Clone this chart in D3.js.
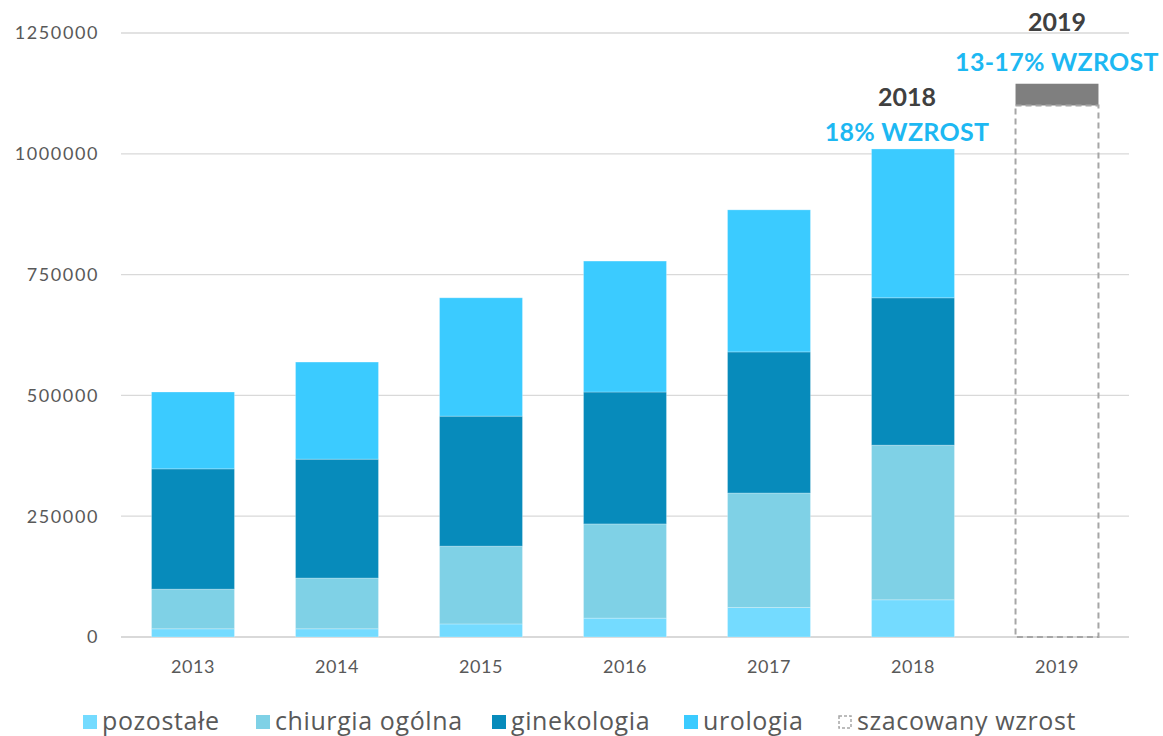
<!DOCTYPE html>
<html><head><meta charset="utf-8">
<script src="https://cdn.jsdelivr.net/npm/d3@7"></script>
<style>body{margin:0;background:#fff}svg{display:block}</style>
</head><body>
<svg id="c" width="1163" height="736"></svg>
<script>
const years = ["2013","2014","2015","2016","2017","2018","2019"];
const seriesNames = ["pozostałe","chiurgia ogólna","ginekologia","urologia"];
const pozostale = [17000, 17000, 27000, 39000, 61000, 77000, 0];
const chirurgia = [82000, 105000, 161000, 195000, 237000, 320000, 0];
const ginekologia = [249000, 246000, 269000, 273000, 292000, 305000, 0];
const urologia = [159000, 201000, 245000, 271000, 294000, 308000, 0];
const estimateBase = 1100000;   // szacowany 2019 (dashed box)
const estimateTop = 1145000;    // upper range of estimate
const yTicks = [0, 250000, 500000, 750000, 1000000, 1250000];
const colors = ["#74DBFF","#7FD1E6","#078BBB","#3BCBFF"];
const legendLabels = ["pozostałe","chiurgia ogólna","ginekologia","urologia","szacowany wzrost"];

const svg = d3.select("#c");
const x = d3.scaleBand().domain(years).range([121, 1129]).paddingInner(0.424).paddingOuter(0.212);
const y = d3.scaleLinear().domain([0, 1250000]).range([637, 33]);

// gridlines
svg.append("g").selectAll("line").data(yTicks).join("line")
  .attr("x1", 121).attr("x2", 1129)
  .attr("y1", d => y(d)).attr("y2", d => y(d))
  .attr("stroke", "#D9D9D9").attr("stroke-width", d => d === 0 ? 2 : 1.3);

// y labels
svg.append("g").selectAll("text").data(yTicks).join("text")
  .attr("x", 99).attr("y", d => y(d)).attr("dy", "0.35em")
  .attr("text-anchor", "end").attr("font-family", "Lato, 'Open Sans', sans-serif")
  .attr("font-size", 18).attr("letter-spacing", 1.6).attr("fill", "#595959").text(d => d);

// x labels
svg.append("g").selectAll("text").data(years).join("text")
  .attr("x", d => x(d) + x.bandwidth()/2).attr("y", 673)
  .attr("text-anchor", "middle").attr("font-family", "Lato, 'Open Sans', sans-serif")
  .attr("font-size", 18).attr("letter-spacing", 0.5).attr("fill", "#595959").text(d => d);

// stacked data
const rows = years.map((yr, i) => ({year: yr, "pozostałe": pozostale[i], "chiurgia ogólna": chirurgia[i], "ginekologia": ginekologia[i], "urologia": urologia[i]}));
const stack = d3.stack().keys(seriesNames)(rows);
svg.append("g").selectAll("g").data(stack).join("g")
  .attr("fill", (d, i) => colors[i])
  .selectAll("rect").data(d => d.filter(p => p[1] > p[0])).join("rect")
  .attr("x", d => x(d.data.year)).attr("width", x.bandwidth())
  .attr("y", d => y(d[1])).attr("height", d => y(d[0]) - y(d[1]))
  .attr("stroke", "rgba(255,255,255,0.25)").attr("stroke-width", 1);

// 2019 estimate
const x19 = x("2019");
svg.append("rect").attr("x", x19).attr("width", x.bandwidth())
  .attr("y", y(estimateTop)).attr("height", y(estimateBase) - y(estimateTop))
  .attr("fill", "#7F7F7F");
svg.append("rect").attr("x", x19).attr("width", x.bandwidth())
  .attr("y", y(estimateBase)).attr("height", y(0) - y(estimateBase))
  .attr("fill", "none").attr("stroke", "#A6A6A6").attr("stroke-width", 2)
  .attr("stroke-dasharray", "6,4");

// annotations
const ann = [
  {year: "2018", t1: "2018", t2: "18% WZROST", y1: 97, y2: 132, dx: -6},
  {year: "2019", t1: "2019", t2: "13-17% WZROST", y1: 22, y2: 62, dx: 0}
];
ann.forEach(a => {
  const cx = x(a.year) + x.bandwidth()/2 + a.dx;
  svg.append("text").attr("x", cx).attr("y", a.y1).attr("dy", "0.35em")
    .attr("text-anchor", "middle").attr("font-family", "Lato, sans-serif")
    .attr("font-weight", "bold").attr("font-size", 25).attr("fill", "#404040").text(a.t1);
  svg.append("text").attr("x", cx).attr("y", a.y2).attr("dy", "0.35em")
    .attr("text-anchor", "middle").attr("font-family", "Lato, sans-serif")
    .attr("font-weight", "bold").attr("font-size", 25).attr("letter-spacing", 0.3).attr("fill", "#1DB8F2").text(a.t2);
});

// legend
const legX = [83, 256, 492, 684, 838];
const lg = svg.append("g");
legendLabels.forEach((lab, i) => {
  const g = lg.append("g").attr("transform", `translate(${legX[i]},0)`);
  if (i < 4) {
    g.append("rect").attr("x", 0).attr("y", 715).attr("width", 14).attr("height", 14).attr("fill", colors[i]);
  } else {
    g.append("rect").attr("x", 1).attr("y", 716).attr("width", 12).attr("height", 12)
      .attr("fill", "none").attr("stroke", "#A6A6A6").attr("stroke-width", 1.5).attr("stroke-dasharray", "3,2");
  }
  g.append("text").attr("x", 19).attr("y", 721).attr("dy", "0.35em")
    .attr("font-family", "'Open Sans', sans-serif").attr("font-size", 25)
    .attr("fill", "#595959").attr("letter-spacing", 0.6).text(lab);
});
</script>
</body></html>
